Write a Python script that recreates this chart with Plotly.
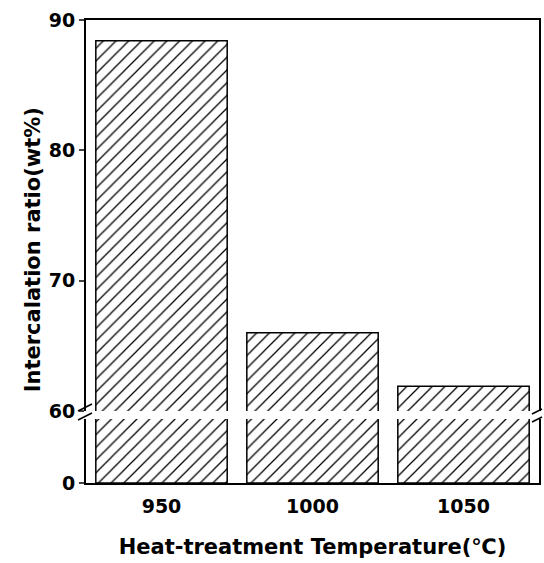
import plotly.graph_objects as go

categories = ["950", "1000", "1050"]
values = [88.4, 66.0, 61.9]
upper_ticks = [60, 70, 80, 90]
lower_ticks = [0]

W, H = 544, 563
ml, mr, mt, mb = 86, 3, 20, 80
ph = H - mt - mb
pw = W - ml - mr

def py(ypix):
    return (H - mb - ypix) / ph

def px(xpix):
    return (xpix - ml) / pw

TICKFONT = dict(family="DejaVu Sans", size=19, color="black", weight="bold")
TITLEFONT = dict(family="DejaVu Sans", size=21, color="black", weight="bold")
pattern = dict(shape="/", fgcolor="black", bgcolor="white", size=9, solidity=0.14, fillmode="replace")

fig = go.Figure()
for ax_y, ax_x in (("y", "x"), ("y2", "x2")):
    fig.add_trace(go.Bar(
        x=categories, y=values, xaxis=ax_x, yaxis=ax_y,
        marker=dict(color="white", pattern=pattern, line=dict(color="black", width=1.5)),
        showlegend=False, hoverinfo="x+y"))

lower_dom = [0, py(419)]
upper_dom = [py(411), 1]

axis_common = dict(showgrid=False, zeroline=False, linecolor="black", linewidth=2,
                   tickfont=TICKFONT)

fig.update_layout(
    width=W, height=H,
    margin=dict(l=ml, r=mr, t=mt, b=mb),
    paper_bgcolor="white", plot_bgcolor="white",
    bargap=0.13,
    xaxis=dict(**axis_common, domain=[0, 1], anchor="y", showline=True, ticks="",
               range=[-0.5, 2.5], type="category", ticklabelstandoff=5,
               title=dict(text="Heat-treatment Temperature(℃)", standoff=24, font=TITLEFONT)),
    xaxis2=dict(**axis_common, domain=[0, 1], anchor="y2", side="top", showline=True,
                showticklabels=False, ticks="", range=[-0.5, 2.5], type="category", matches="x"),
    yaxis=dict(**axis_common, domain=lower_dom, anchor="x", range=[0, 5],
               showline=True, mirror=True, ticks="outside", ticklen=5, tickwidth=1.5,
               tickvals=lower_ticks, ticktext=[str(t) for t in lower_ticks]),
    yaxis2=dict(**axis_common, domain=upper_dom, anchor="x2", range=[60, 90],
                showline=True, mirror=True, ticks="outside", ticklen=5, tickwidth=1.5,
                tickvals=upper_ticks, ticktext=[str(t) for t in upper_ticks]),
)

fig.add_annotation(text="Intercalation ratio(wt%)", xref="paper", yref="paper",
                   x=px(19), y=py(250), textangle=-90, showarrow=False, font=TITLEFONT)

# axis break marks
for (x0, y0, x1, y1) in [(78, 411, 92, 404), (78, 420, 92, 413),
                         (534, 414, 544, 409), (534, 422, 544, 417)]:
    fig.add_shape(type="line", xref="paper", yref="paper",
                  x0=px(x0), y0=py(y0), x1=px(x1), y1=py(y1),
                  line=dict(color="black", width=1.5))

fig.write_html("out.html")
